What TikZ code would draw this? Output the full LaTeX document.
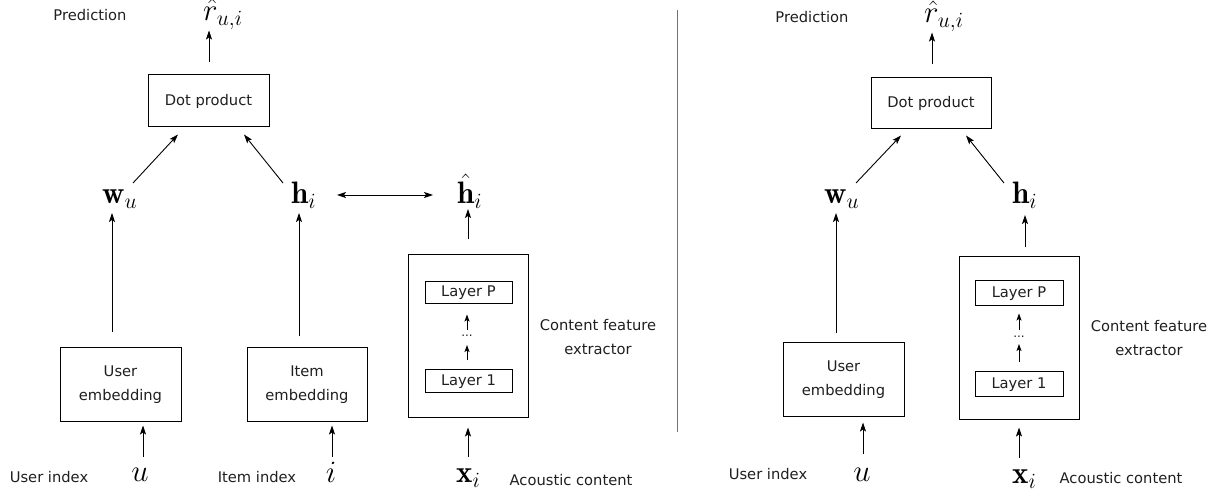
\RequirePackage{fix-cm}
\documentclass[tikz,border=0pt]{standalone}
\usepackage{fontspec}
\newfontfamily\djv{DejaVu Sans}
\usetikzlibrary{arrows.meta,calc}
\tikzset{
  lbl/.style={font=\djv\fontsize{14.7}{24}\selectfont, text=black!88, inner sep=0pt, align=center},
  mth/.style={font=\fontsize{31}{31}\selectfont, inner sep=0pt},
  blk/.style={draw, line width=1pt, font=\djv\fontsize{14.7}{24}\selectfont, text=black!88, align=center, inner sep=0pt},
  lay/.style={draw, line width=1pt, font=\djv\fontsize{14.7}{24}\selectfont, text=black!88, inner sep=0pt, minimum width=87pt},
  dotlbl/.style={font=\djv\fontsize{12}{12}\selectfont, text=black!88, inner sep=0pt, anchor=base},
  arr/.style={line width=0.9pt, -{Stealth[length=9pt,width=6pt,inset=2pt]}},
  dbl/.style={line width=0.9pt, {Stealth[length=9pt,width=6pt,inset=2pt]}-{Stealth[length=9pt,width=6pt,inset=2pt]}},
  sarr/.style={line width=0.9pt, -{Stealth[length=7pt,width=5pt,inset=1.5pt]}},
  divider/.style={line width=1pt, black!55}
}
\begin{document}
\begin{tikzpicture}[x=1pt,y=1pt]
\useasboundingbox (0,0) rectangle (1223,492);
% ---------------- left panel ----------------
\node[lbl] (pred1) at (90,477) {Prediction};
\node[mth, anchor=base west] (r1) at (203,471) {$\hat{r}_{u,i}$};
\node[blk, minimum width=121pt, minimum height=52pt] (dp1) at (208.5,391) {Dot product};
\node[mth, anchor=base west] (wu1) at (102,288) {$\mathbf{w}_u$};
\node[mth, anchor=base west] (hi1) at (291,288) {$\mathbf{h}_i$};
\node[mth, anchor=base west] (hh1) at (457,288) {$\hat{\mathbf{h}}_i$};
\node[blk, minimum width=121pt, minimum height=74pt] (ue1) at (120.5,107) {User\\embedding};
\node[blk, minimum width=120pt, minimum height=74pt] (ie1) at (307,107) {Item\\embedding};
\node[draw, line width=1pt, minimum width=120pt, minimum height=163pt] (cfe1) at (468,155.5) {};
\node[lay, minimum height=22pt] (lp1) at (468.5,199) {Layer P};
\node[lay, minimum height=23pt] (l11) at (468.5,110.5) {Layer 1};
\node[dotlbl] (dots1) at (467,155) {...};
\node[lbl] (cfl1) at (598,155) {Content feature\\extractor};
\node[mth, anchor=base] (u1) at (140,10) {$u$};
\node[lbl] (uidx1) at (49,15) {User index};
\node[mth, anchor=base] (i1) at (331,9) {$i$};
\node[lbl] (iidx1) at (257,15) {Item index};
\node[mth, anchor=base west] (xi1) at (456,9) {$\mathbf{x}_i$};
\node[lbl] (ac1) at (571,12) {Acoustic content};

\draw[arr] ($(dp1.north)+(0.5,12)$) -- ($(dp1.north)+(0.5,44)$);
\draw[arr] ($(wu1.base west)+(31,21)$) -- ($(dp1.south)+(-30.5,-7)$);
\draw[arr] ($(hi1.base west)+(-8,21)$) -- ($(dp1.south)+(35.5,-7)$);
\draw[dbl] ($(hi1.base west)+(46,9)$) -- ($(hh1.base west)+(-24,9)$);
\draw[arr] ($(ue1.north)+(-8.5,15)$) -- ($(wu1.base west)+(10,-9)$);
\draw[arr] ($(ie1.north)+(-8,11)$) -- ($(hi1.base west)+(8,-9)$);
\draw[arr] ($(cfe1.north)+(0,15)$) -- ($(hh1.base west)+(11,-5)$);
\draw[arr] ($(u1.base)+(3,25)$) -- ($(ue1.south)+(22.5,-3)$);
\draw[arr] ($(i1.base)+(1,26)$) -- ($(ie1.south)+(25,-3)$);
\draw[arr] ($(xi1.base west)+(12,26)$) -- ($(cfe1.south)+(0,-9)$);
\draw[sarr] ($(l11.north)+(-1.5,9)$) -- ($(dots1.base)+(0,-8)$);
\draw[sarr] ($(dots1.base)+(0,7)$) -- ($(lp1.south)+(-1.5,-10)$);

% divider
\draw[divider] (677,60) -- (677,482);

% ---------------- right panel ----------------
\node[lbl] (pred2) at (812,475) {Prediction};
\node[mth, anchor=base west] (r2) at (924,469) {$\hat{r}_{u,i}$};
\node[blk, minimum width=120pt, minimum height=51pt] (dp2) at (931,388.5) {Dot product};
\node[mth, anchor=base west] (wu2) at (824,288) {$\mathbf{w}_u$};
\node[mth, anchor=base west] (hi2) at (1012,288) {$\mathbf{h}_i$};
\node[blk, minimum width=121pt, minimum height=74pt] (ue2) at (843.5,112) {User\\embedding};
\node[draw, line width=1pt, minimum width=120pt, minimum height=163pt] (cfe2) at (1019,153.5) {};
\node[lay, minimum height=25pt, minimum width=88pt] (lp2) at (1019,198.5) {Layer P};
\node[lay, minimum height=25pt, minimum width=88pt] (l12) at (1019,107.5) {Layer 1};
\node[dotlbl] (dots2) at (1019,154) {...};
\node[lbl] (cfl2) at (1149,154) {Content feature\\extractor};
\node[mth, anchor=base] (u2) at (862,10) {$u$};
\node[lbl] (uidx2) at (768,18) {User index};
\node[mth, anchor=base west] (xi2) at (1012,8) {$\mathbf{x}_i$};
\node[lbl] (ac2) at (1121,14) {Acoustic content};

\draw[arr] ($(dp2.north)+(1,13)$) -- ($(dp2.north)+(1,45)$);
\draw[arr] ($(wu2.base west)+(32,21)$) -- ($(dp2.south)+(-30,-6)$);
\draw[arr] ($(hi2.base west)+(-8,21)$) -- ($(dp2.south)+(35,-6)$);
\draw[arr] ($(ue2.north)+(-7.5,9)$) -- ($(wu2.base west)+(12,-9)$);
\draw[arr] ($(cfe2.north)+(6,9)$) -- ($(hi2.base west)+(13,-11)$);
\draw[arr] ($(u2.base)+(1,28)$) -- ($(ue2.south)+(19.5,-5)$);
\draw[arr] ($(xi2.base west)+(7,26)$) -- ($(cfe2.south)+(0,-7)$);
\draw[sarr] ($(l12.north)+(0,9)$) -- ($(dots2.base)+(0,-6)$);
\draw[sarr] ($(dots2.base)+(0,8)$) -- ($(lp2.south)+(0,-7)$);
\end{tikzpicture}
\end{document}
